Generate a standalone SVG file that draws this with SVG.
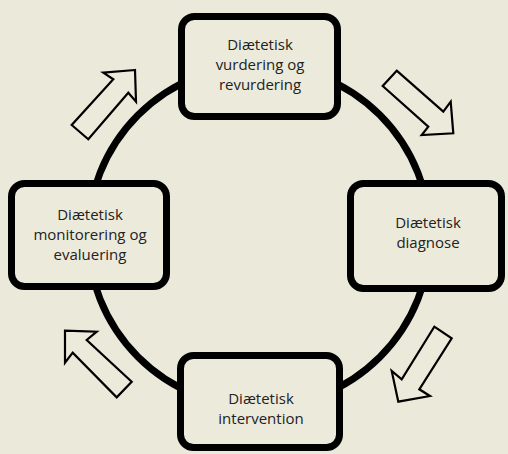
<svg xmlns="http://www.w3.org/2000/svg" width="508" height="454" viewBox="0 0 508 454">
<style>
.node{fill:#ECEADB;stroke:#000;stroke-width:7}
.lbl{font-family:"Open Sans","Liberation Sans",sans-serif;font-size:15px;fill:#222;text-anchor:middle}
.arr{fill:#ECEADB;stroke:#000;stroke-width:2.2;stroke-linejoin:miter}
.ring{fill:none;stroke:#000;stroke-width:7}
</style>
<rect width="508" height="454" fill="#EBE9D9"/>
<g id="connectors">
<circle class="ring" cx="259" cy="236" r="171"/>
<polygon class="arr" points="135,70 103.3,72.7 113.3,79.3 71.7,125 88.3,139.3 128.3,92.7 136,101.7"/>
<polygon class="arr" points="396.7,70.7 443.3,111.7 450.7,101.7 453.3,133.3 421.7,135 428.3,126.7 382.7,86"/>
<polygon class="arr" points="434.3,326.7 451.7,338.3 419.3,389.3 430,396 398.3,401.7 391.7,371 401.7,379.3"/>
<polygon class="arr" points="65,330.7 96.7,331.7 86.7,340 131.7,381.7 116.7,397.3 72.7,352.7 65,362.7"/>
</g>
<g id="node-vurdering">
<rect class="node" x="181.5" y="16.5" width="156" height="100" rx="13"/>
<text class="lbl" x="260" y="50">Diætetisk</text>
<text class="lbl" x="260" y="70">vurdering og</text>
<text class="lbl" x="260" y="90">revurdering</text>
</g>
<g id="node-diagnose">
<rect class="node" x="350.5" y="183.5" width="151" height="105" rx="13"/>
<text class="lbl" x="428" y="228">Diætetisk</text>
<text class="lbl" x="428" y="248">diagnose</text>
</g>
<g id="node-intervention">
<rect class="node" x="180.5" y="355.5" width="159" height="92" rx="13"/>
<text class="lbl" x="261" y="404">Diætetisk</text>
<text class="lbl" x="261" y="424">intervention</text>
</g>
<g id="node-monitorering">
<rect class="node" x="11.5" y="183.5" width="155" height="103" rx="13"/>
<text class="lbl" x="90" y="220">Diætetisk</text>
<text class="lbl" x="90" y="240">monitorering og</text>
<text class="lbl" x="90" y="260">evaluering</text>
</g>
</svg>
